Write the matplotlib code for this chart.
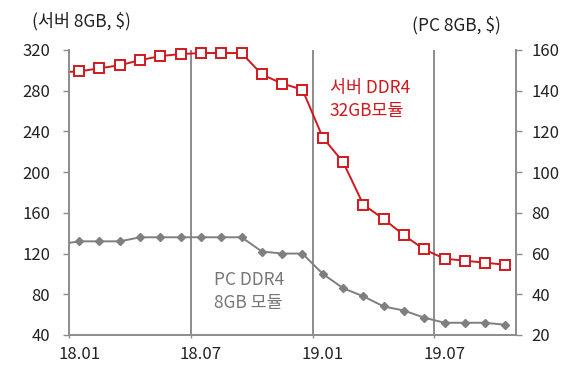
import matplotlib
matplotlib.use("Agg")
import matplotlib.pyplot as plt
import numpy as np

plt.rcParams['font.family'] = ['Noto Sans CJK KR', 'DejaVu Sans']

# months: 17.12 (partially visible at the left edge) then 18.01 .. 19.10
months = ['17.12', '18.01', '18.02', '18.03', '18.04', '18.05', '18.06', '18.07', '18.08', '18.09',
          '18.10', '18.11', '18.12', '19.01', '19.02', '19.03', '19.04', '19.05', '19.06',
          '19.07', '19.08', '19.09', '19.10']
server_32gb = [298, 299, 302, 305, 310, 314, 316, 317, 317, 317, 296, 287, 281,
               234, 210, 168, 154, 138, 124, 115, 113, 111, 109]
pc_8gb = [64.5, 66, 66, 66, 68, 68, 68, 68, 68, 68, 61, 60, 60,
          50, 43, 39, 34, 32, 28.5, 26, 26, 26, 25]
tick_labels = ['18.01', '18.07', '19.01', '19.07']

red = '#d0191e'
gray = '#7f7f7f'
axis_gray = '#8c8c8c'

fig = plt.figure(figsize=(5.8, 3.73), dpi=100)
ax = fig.add_axes([0.1190, 0.1019, 0.7700, 0.7641])
ax2 = ax.twinx()

x = np.arange(len(months)) - 1  # 18.01 at 0

# lines (clipped at the axes edge)
ax.plot(x, server_32gb, color=red, lw=1.4, zorder=4, clip_on=True)
ax2.plot(x, pc_8gb, color=gray, lw=1.4, zorder=4, clip_on=True)
# markers for the visible months (not clipped)
ax.plot(x[1:], server_32gb[1:], ls='none', marker='s', markersize=7.5,
        markerfacecolor='white', markeredgecolor=red, markeredgewidth=1.4,
        zorder=5, clip_on=False)
ax2.plot(x[1:], pc_8gb[1:], ls='none', marker='D', markersize=4.5,
         markerfacecolor=gray, markeredgecolor=gray, zorder=5, clip_on=False)

ax.set_xlim(-0.5, 21.5)
ax.set_ylim(40, 320)
ax2.set_ylim(20, 160)
ax.set_yticks(np.arange(40, 321, 40))
ax2.set_yticks(np.arange(20, 161, 20))

label_pos = [months.index(m) - 1 for m in tick_labels]
ax.set_xticks(label_pos)
ax.set_xticklabels(tick_labels)
ax.set_xticks([p - 0.5 for p in label_pos], minor=True)
for p in label_pos[1:]:
    ax.axvline(p - 0.5, color=axis_gray, lw=1.4, zorder=1)

for a in (ax, ax2):
    a.spines['top'].set_visible(False)
    for s in ('left', 'right', 'bottom'):
        a.spines[s].set_color(axis_gray)
        a.spines[s].set_linewidth(1.2)
    a.tick_params(colors=axis_gray, labelcolor='#222222', labelsize=12, length=4.5, width=1.0)
ax.tick_params(axis='y', pad=9)
ax2.tick_params(axis='y', pad=7)
ax.tick_params(axis='x', which='major', length=0, pad=8)
ax.tick_params(axis='x', which='minor', length=2.5, width=1.0, colors=axis_gray)

fig.text(0.055, 0.944, '(서버 8GB, $)', fontsize=12.5, color='#222222', ha='left', va='center')
fig.text(0.864, 0.932, '(PC 8GB, $)', fontsize=12.5, color='#222222', ha='right', va='center')

ax.text(12.35, 271.5, '서버 DDR4\n32GB모듈', color=red, fontsize=12.5, ha='left', va='center',
        linespacing=1.35)
ax.text(6.65, 83, 'PC DDR4\n8GB 모듈', color='#777777', fontsize=12.5, ha='left', va='center',
        linespacing=1.35)

fig.savefig('out.png', dpi=100)
